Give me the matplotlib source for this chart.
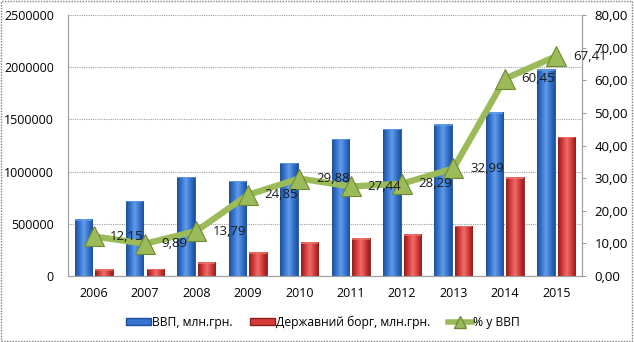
import numpy as np
import matplotlib.pyplot as plt
from matplotlib.patches import Rectangle, Patch
from matplotlib.lines import Line2D
from matplotlib.colors import LinearSegmentedColormap

plt.rcParams['font.family'] = ['Open Sans', 'DejaVu Sans']
plt.rcParams['font.size'] = 8.5

years = ['2006', '2007', '2008', '2009', '2010', '2011', '2012', '2013', '2014', '2015']
gdp = [544153, 720731, 948056, 913345, 1082569, 1316600, 1408889, 1454931, 1566728, 1979458]
debt = [66100, 71300, 130700, 227000, 323500, 361300, 398600, 480000, 947100, 1334400]
debt_pct = [12.15, 9.89, 13.79, 24.85, 29.88, 27.44, 28.29, 32.99, 60.45, 67.41]

c_blue, c_blue_dk, c_blue_lt = "#3574cf", "#1f4f9a", "#639ce6"
c_red, c_red_dk, c_red_lt = "#d63a3a", "#8e1e1e", "#ee6f68"
c_green, c_green_dk = "#9bbb59", "#6f8a36"
grid_c = "#a0a0a0"

fig = plt.figure(figsize=(6.34, 3.42), dpi=100)
ax = fig.add_axes([0.107, 0.193, 0.811, 0.763])
ax2 = ax.twinx()

x = np.arange(len(years))
w = 0.34
off = 0.2


def shaded_bars(xs, vals, base, light, dark):
    cmap = LinearSegmentedColormap.from_list("bar", [dark, base, light, base, dark])
    grad = np.linspace(0, 1, 64).reshape(1, -1)
    bars = ax.bar(xs, vals, width=w, color=base, edgecolor=dark, linewidth=0.6, zorder=2)
    for b in bars:
        x0, y0 = b.get_x(), b.get_y()
        im = ax.imshow(grad, cmap=cmap, aspect='auto', zorder=2.1,
                       extent=[x0, x0 + b.get_width(), y0, y0 + b.get_height()])
        im.set_clip_path(b)
        # light top cap
        ax.add_patch(Rectangle((x0, b.get_height() - 14000), b.get_width(), 14000,
                               facecolor=light, edgecolor='none', alpha=0.8, zorder=2.2))
    return bars


shaded_bars(x - off, gdp, c_blue, c_blue_lt, c_blue_dk)
shaded_bars(x + off, debt, c_red, c_red_lt, c_red_dk)

ax.set_xlim(-0.5, len(years) - 0.5)
ax.set_ylim(0, 2500000)
ax.set_yticks(np.arange(0, 2500001, 500000))
ax.set_yticklabels([f"{v:d}" for v in range(0, 2500001, 500000)])
ax.set_xticks(x)
ax.set_xticklabels(years)
ax.tick_params(axis='y', length=0, pad=10, labelsize=9)
ax.tick_params(axis='x', length=0, pad=8, labelsize=9)
ax.yaxis.grid(True, linestyle=(0, (1, 1)), color=grid_c, linewidth=0.8, zorder=0)
ax.set_axisbelow(True)

# percentage line on the secondary axis
ax2.plot(x, debt_pct, color=c_green, linewidth=4.5, solid_capstyle='round', zorder=3,
         marker='^', markersize=15, markerfacecolor=c_green, markeredgecolor=c_green_dk,
         markeredgewidth=0.8)
for xi, v in zip(x, debt_pct):
    ax2.annotate(f"{v:.2f}".replace('.', ','), (xi, v), xytext=(12, 0),
                 textcoords='offset points', ha='left', va='center', fontsize=9.5,
                 color='#1a1a1a', zorder=4)
ax2.set_ylim(0, 80)
ax2.set_yticks(np.arange(0, 81, 10))
ax2.set_yticklabels([f"{v:.2f}".replace('.', ',') for v in np.arange(0, 81, 10)])
ax2.tick_params(axis='y', length=3, color=grid_c, pad=6, labelsize=9.5)

for a in (ax, ax2):
    a.spines['top'].set_visible(False)
    for s in ('left', 'right', 'bottom'):
        a.spines[s].set_color(grid_c)
        a.spines[s].set_linewidth(0.8)

handles = [
    Patch(facecolor=c_blue, edgecolor=c_blue_dk, label="ВВП, млн.грн."),
    Patch(facecolor=c_red, edgecolor=c_red_dk, label="Державний борг, млн.грн."),
    Line2D([0], [0], color=c_green, linewidth=4, marker='^', markersize=9,
           markerfacecolor=c_green, markeredgecolor=c_green_dk, label="% у ВВП"),
]
fig.legend(handles=handles, loc='center', bbox_to_anchor=(0.51, 0.058), ncol=3,
           frameon=False, handlelength=2.0, handleheight=0.5, handletextpad=0.1,
           columnspacing=1.5, fontsize=8.7)

fig.add_artist(Rectangle((0.002, 0.003), 0.995, 0.993, transform=fig.transFigure,
                         fill=False, edgecolor='#808080', linewidth=1.0,
                         linestyle=(0, (1, 1))))

fig.savefig("out.png", dpi=100)
